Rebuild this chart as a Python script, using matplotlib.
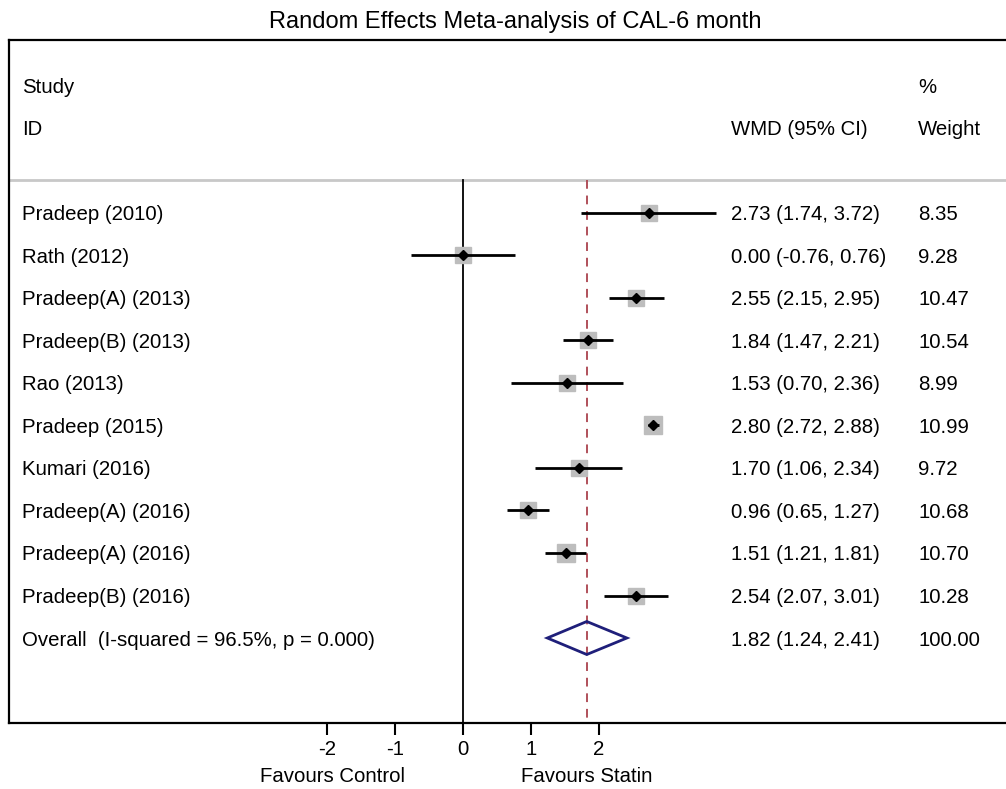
import numpy as np
import matplotlib
matplotlib.use("Agg")
import matplotlib.pyplot as plt
from matplotlib.patches import Polygon

plt.rcParams['font.family'] = ['Liberation Sans', 'DejaVu Sans']

studies = ["Pradeep (2010)", "Rath (2012)", "Pradeep(A) (2013)", "Pradeep(B) (2013)",
           "Rao (2013)", "Pradeep (2015)", "Kumari (2016)", "Pradeep(A) (2016)",
           "Pradeep(A) (2016)", "Pradeep(B) (2016)"]
wmd = [2.73, 0.00, 2.55, 1.84, 1.53, 2.80, 1.70, 0.96, 1.51, 2.54]
ci_low = [1.74, -0.76, 2.15, 1.47, 0.70, 2.72, 1.06, 0.65, 1.21, 2.07]
ci_high = [3.72, 0.76, 2.95, 2.21, 2.36, 2.88, 2.34, 1.27, 1.81, 3.01]
weights = [8.35, 9.28, 10.47, 10.54, 8.99, 10.99, 9.72, 10.68, 10.70, 10.28]

overall_label = "Overall  (I-squared = 96.5%, p = 0.000)"
overall_est = 1.82
overall_low = 1.24
overall_high = 2.41
overall_weight = 100.00

xticks = [-2, -1, 0, 1, 2]

W, H = 1006, 789
fig = plt.figure(figsize=(W / 100, H / 100), dpi=100)

# axes box in pixels: left 9, right beyond the figure edge, top 40, bottom 723
px_left, px_right, px_top, px_bottom = 9, 1012, 40, 723
ax = fig.add_axes([px_left / W, 1 - px_bottom / H,
                   (px_right - px_left) / W, (px_bottom - px_top) / H])

# horizontal scale: 68 px per unit, zero at pixel 463
ppu, x0 = 68.0, 463.0
ax.set_xlim((px_left - x0) / ppu, (px_right - x0) / ppu)
# vertical scale: rows 42.5 px apart, first study row at pixel 213
row_h, row0 = 42.5, 213.0
ax.set_ylim((px_bottom - row0) / row_h, (px_top - row0) / row_h)

fs = 14.7
col_study = (22 - x0) / ppu
col_wmd = (731 - x0) / ppu
col_wt = (918 - x0) / ppu
sep_y = (180 - row0) / row_h
bottom_y = (px_bottom - row0) / row_h
dy = 2.0 / row_h  # text baseline nudge


def label(x, y, s):
    ax.text(x, y + dy, s, fontsize=fs, va="center", ha="left")


# header
label(col_study, -3, "Study")
label(col_study, -2, "ID")
label(col_wmd, -2, "WMD (95% CI)")
label(col_wt, -3, "%")
label(col_wt, -2, "Weight")
ax.axhline(sep_y, color="#c8c8c8", lw=2.0, zorder=1)

# reference lines
ax.plot([0, 0], [sep_y, bottom_y], color="black", lw=1.3, zorder=2)
ax.plot([overall_est, overall_est], [sep_y, bottom_y], color="#b0505a",
        lw=1.4, ls=(0, (4.5, 3.5)), zorder=2)

# studies
for i, (name, est, lo, hi, w) in enumerate(zip(studies, wmd, ci_low, ci_high, weights)):
    side = 5.2 * np.sqrt(w) * 0.72  # points
    ax.plot([est], [i], marker="s", ms=side, color="#bdbdbd", mec="#bdbdbd",
            zorder=3)
    ax.plot([lo, hi], [i, i], color="black", lw=2.0, solid_capstyle="butt",
            zorder=4)
    ax.plot([est], [i], marker="D", ms=5.5, color="black", zorder=5)
    label(col_study, i, name)
    label(col_wmd, i, f"{est:.2f} ({lo:.2f}, {hi:.2f})")
    label(col_wt, i, f"{w:.2f}")

# overall diamond
k = len(studies)
half_h = 16.5 / row_h
diamond = Polygon([[overall_low, k], [overall_est, k - half_h],
                   [overall_high, k], [overall_est, k + half_h]],
                  closed=True, fill=False, edgecolor="#1f1f7a", lw=2.0, zorder=6)
ax.add_patch(diamond)
label(col_study, k, overall_label)
label(col_wmd, k, f"{overall_est:.2f} ({overall_low:.2f}, {overall_high:.2f})")
label(col_wt, k, f"{overall_weight:.2f}")

# frame and axis
for s in ax.spines.values():
    s.set_linewidth(1.6)
    s.set_color("black")
ax.set_yticks([])
ax.set_xticks(xticks)
ax.set_xticklabels([str(t) for t in xticks], fontsize=fs)
ax.tick_params(axis="x", direction="out", length=8.5, width=1.5, pad=4)

fig.text(332 / W, 1 - 777 / H, "Favours Control", fontsize=fs, ha="center", va="center")
fig.text(587 / W, 1 - 777 / H, "Favours Statin", fontsize=fs, ha="center", va="center")
fig.text(515 / W, 1 - 22 / H, "Random Effects Meta-analysis of CAL-6 month",
         fontsize=17, ha="center", va="center")

fig.savefig("out.png", dpi=100, facecolor="white")
